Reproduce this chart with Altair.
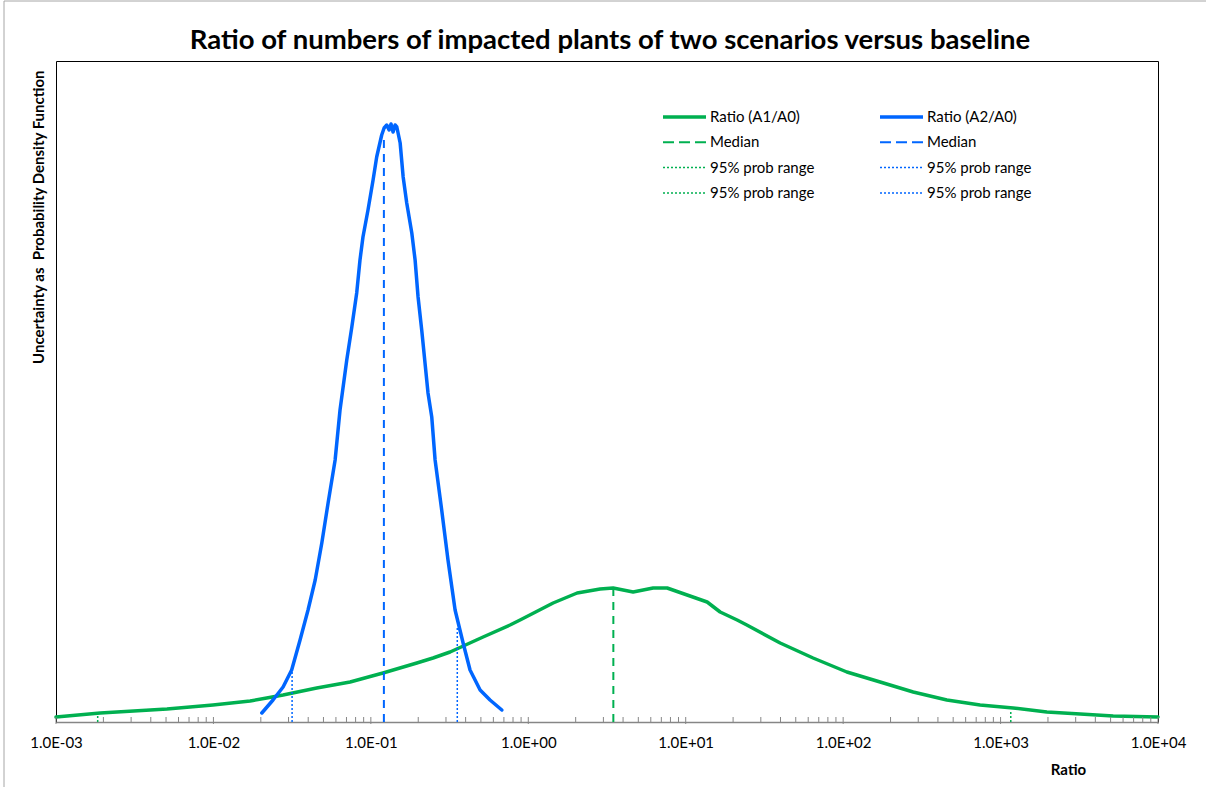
import altair as alt
import pandas as pd

# Probability density of the ratio A1/A0 (green curve)
A1_RATIO = [0.001, 0.00191, 0.00507, 0.00993, 0.0171, 0.0218, 0.0277, 0.0453, 0.0738,
            0.1194, 0.1959, 0.2483, 0.3186, 0.5164, 0.7656, 0.887, 1.438, 2.043, 2.858,
            3.459, 4.634, 6.209, 7.621, 10.21, 13.68, 16.55, 21.22, 24.44, 39.81, 64.42,
            105.6, 171.8, 278.6, 456.0, 741.3, 1202.0, 1968.0, 3206.0, 5192.0, 10000.0]
A1_DENSITY = [0.005, 0.009, 0.013, 0.017, 0.021, 0.024, 0.027, 0.034, 0.040,
              0.049, 0.059, 0.064, 0.070, 0.085, 0.097, 0.102, 0.119, 0.129, 0.133,
              0.134, 0.130, 0.134, 0.134, 0.127, 0.120, 0.110, 0.102, 0.097, 0.079, 0.064,
              0.050, 0.040, 0.030, 0.022, 0.017, 0.014, 0.010, 0.008, 0.006, 0.005]

# Probability density of the ratio A2/A0 (blue curve)
A2_RATIO = [0.0203, 0.0239, 0.0277, 0.0314, 0.0355, 0.0399, 0.0443, 0.0488, 0.0535,
            0.0593, 0.0637, 0.0703, 0.0757, 0.0813, 0.0853, 0.0891, 0.0959, 0.1033,
            0.1089, 0.1172, 0.1214, 0.1262, 0.1306, 0.1343, 0.1384, 0.1426, 0.1462,
            0.1535, 0.1604, 0.1690, 0.1820, 0.1910, 0.1995, 0.2104, 0.2208, 0.2307,
            0.2437, 0.2559, 0.2818, 0.3090, 0.3428, 0.3855, 0.4266, 0.4943, 0.5714, 0.6792]
A2_DENSITY = [0.009, 0.022, 0.035, 0.052, 0.082, 0.112, 0.142, 0.179, 0.219,
              0.262, 0.312, 0.362, 0.395, 0.429, 0.462, 0.485, 0.512, 0.542,
              0.565, 0.587, 0.594, 0.597, 0.592, 0.598, 0.590, 0.597, 0.595,
              0.579, 0.545, 0.519, 0.489, 0.462, 0.425, 0.392, 0.359, 0.329,
              0.305, 0.262, 0.212, 0.162, 0.112, 0.079, 0.052, 0.032, 0.022, 0.012]

# Medians and 95% probability ranges (position, height of the marker line)
A1_MEDIAN = [3.47]
A1_MEDIAN_TOP = [0.132]
A2_MEDIAN = [0.121]
A2_MEDIAN_TOP = [0.585]
A1_RANGE = [0.00184, 1161.0]
A1_RANGE_TOP = [0.006, 0.010]
A2_RANGE = [0.0316, 0.354]
A2_RANGE_TOP = [0.055, 0.094]

DECADES = [1e-3, 1e-2, 1e-1, 1e0, 1e1, 1e2, 1e3, 1e4]
LEGEND_A1 = ["Ratio (A1/A0)", "Median", "95% prob range", "95% prob range"]
LEGEND_A2 = ["Ratio (A2/A0)", "Median", "95% prob range", "95% prob range"]
TITLE = "Ratio of numbers of impacted plants of two scenarios versus baseline"

GREEN = "#00B050"
BLUE = "#0066FF"
AXIS_GRAY = "#868686"
FONT = "Lato"
W, H = 1102, 661

x_scale = alt.Scale(type="log", domain=[1e-3, 1e4], nice=False)
y_scale = alt.Scale(domain=[0, 0.661], nice=False, zero=True)

label_expr = ("'1.0E' + (datum.value < 0.999 ? '-' : '+') + '0' + "
              "abs(round(log(datum.value) / LN10))")

x_axis = alt.Axis(values=DECADES, labelExpr=label_expr, labelFlush=False, ticks=False,
                  grid=False, domainColor=AXIS_GRAY, domainWidth=1.5, labelFont=FONT,
                  labelFontSize=15, labelColor="black", labelPadding=13,
                  title="Ratio", titleFont=FONT, titleFontSize=15, titleFontWeight="bold",
                  titleColor="black", titleX=1012, titleY=47, titleAlign="center",
                  titleBaseline="middle")
y_axis = alt.Axis(labels=False, ticks=False, domain=False, grid=False,
                  title="Uncertainty as \u00a0Probability Density Function", titleFont=FONT,
                  titleFontSize=15, titleFontWeight="bold", titleColor="black",
                  titleAngle=270, titleX=-18, titleY=9, titleAlign="right",
                  titleBaseline="middle")

X = lambda f: alt.X(f, scale=x_scale, axis=x_axis)
Y = lambda f: alt.Y(f, scale=y_scale, axis=y_axis)


def curve(ratio, dens, color):
    df = pd.DataFrame({"ratio": ratio, "density": dens})
    return alt.Chart(df).mark_line(color=color, strokeWidth=3.5, strokeJoin="round",
                                   strokeCap="round").encode(x=X("ratio:Q"), y=Y("density:Q"))


def markers(pos, top, color, dash, width):
    df = pd.DataFrame({"ratio": pos, "base": [0.0] * len(pos), "top": top})
    return alt.Chart(df).mark_rule(color=color, strokeDash=dash, strokeWidth=width).encode(
        x=X("ratio:Q"), y=Y("base:Q"), y2="top:Q")


# Minor log ticks drawn upward from the axis, major ticks crossing it
minor = [k * d for d in DECADES[:-1] for k in range(2, 10)]
minor_ticks = alt.Chart(pd.DataFrame({"v": minor})).mark_rule(
    color=AXIS_GRAY, strokeWidth=1).encode(x=X("v:Q"), y=alt.value(H), y2=alt.value(H - 5))
major_ticks = alt.Chart(pd.DataFrame({"v": DECADES})).mark_rule(
    color=AXIS_GRAY, strokeWidth=1).encode(x=X("v:Q"), y=alt.value(H + 2), y2=alt.value(H - 5))

one = alt.Data(values=[{"k": 0}])
STYLES = [dict(strokeWidth=3.5, strokeDash=[1, 0]),
          dict(strokeWidth=2, strokeDash=[11, 5]),
          dict(strokeWidth=1.5, strokeDash=[2, 2]),
          dict(strokeWidth=1.5, strokeDash=[2, 2])]


def legend_column(labels, color, x0):
    layers = []
    for i, lab in enumerate(labels):
        yy = 56 + 25.3 * i
        layers.append(alt.Chart(one).mark_rule(color=color, **STYLES[i]).encode(
            x=alt.value(x0), x2=alt.value(x0 + 43), y=alt.value(yy)))
        layers.append(alt.Chart(one).mark_text(
            align="left", baseline="middle", font=FONT, fontSize=15, color="black").encode(
            x=alt.value(x0 + 47), y=alt.value(yy), text=alt.value(lab)))
    return layers


# Chart title and the outer frame of the chart area
title = alt.Chart(one).mark_text(
    align="center", baseline="alphabetic", font=FONT, fontSize=27.5, fontWeight="bold",
    color="black").encode(x=alt.value(W / 2 + 3), y=alt.value(-12), text=alt.value(TITLE))

border = [
    alt.Chart(one).mark_rule(color="#A6A6A6", strokeWidth=1).encode(
        x=alt.value(-52), y=alt.value(-60), y2=alt.value(740)),
    alt.Chart(one).mark_rule(color="#A6A6A6", strokeWidth=1).encode(
        x=alt.value(-52), x2=alt.value(1160), y=alt.value(-60)),
]

chart = alt.layer(
    curve(A1_RATIO, A1_DENSITY, GREEN),
    markers(A1_MEDIAN, A1_MEDIAN_TOP, GREEN, [8, 6], 2),
    markers(A1_RANGE, A1_RANGE_TOP, GREEN, [2, 2], 1.5),
    markers(A2_MEDIAN, A2_MEDIAN_TOP, BLUE, [8, 6], 2),
    markers(A2_RANGE, A2_RANGE_TOP, BLUE, [2, 2], 1.5),
    curve(A2_RATIO, A2_DENSITY, BLUE),
    minor_ticks,
    major_ticks,
    *legend_column(LEGEND_A1, GREEN, 607),
    *legend_column(LEGEND_A2, BLUE, 824),
    title,
    *border,
).properties(
    width=W,
    height=H,
    padding={"left": 56, "top": 61, "right": 48, "bottom": 65},
    autosize="none",
    background="white",
).configure_view(stroke="black", strokeWidth=1)

chart.save("out.html", embed_options={"renderer": "svg", "actions": False})
